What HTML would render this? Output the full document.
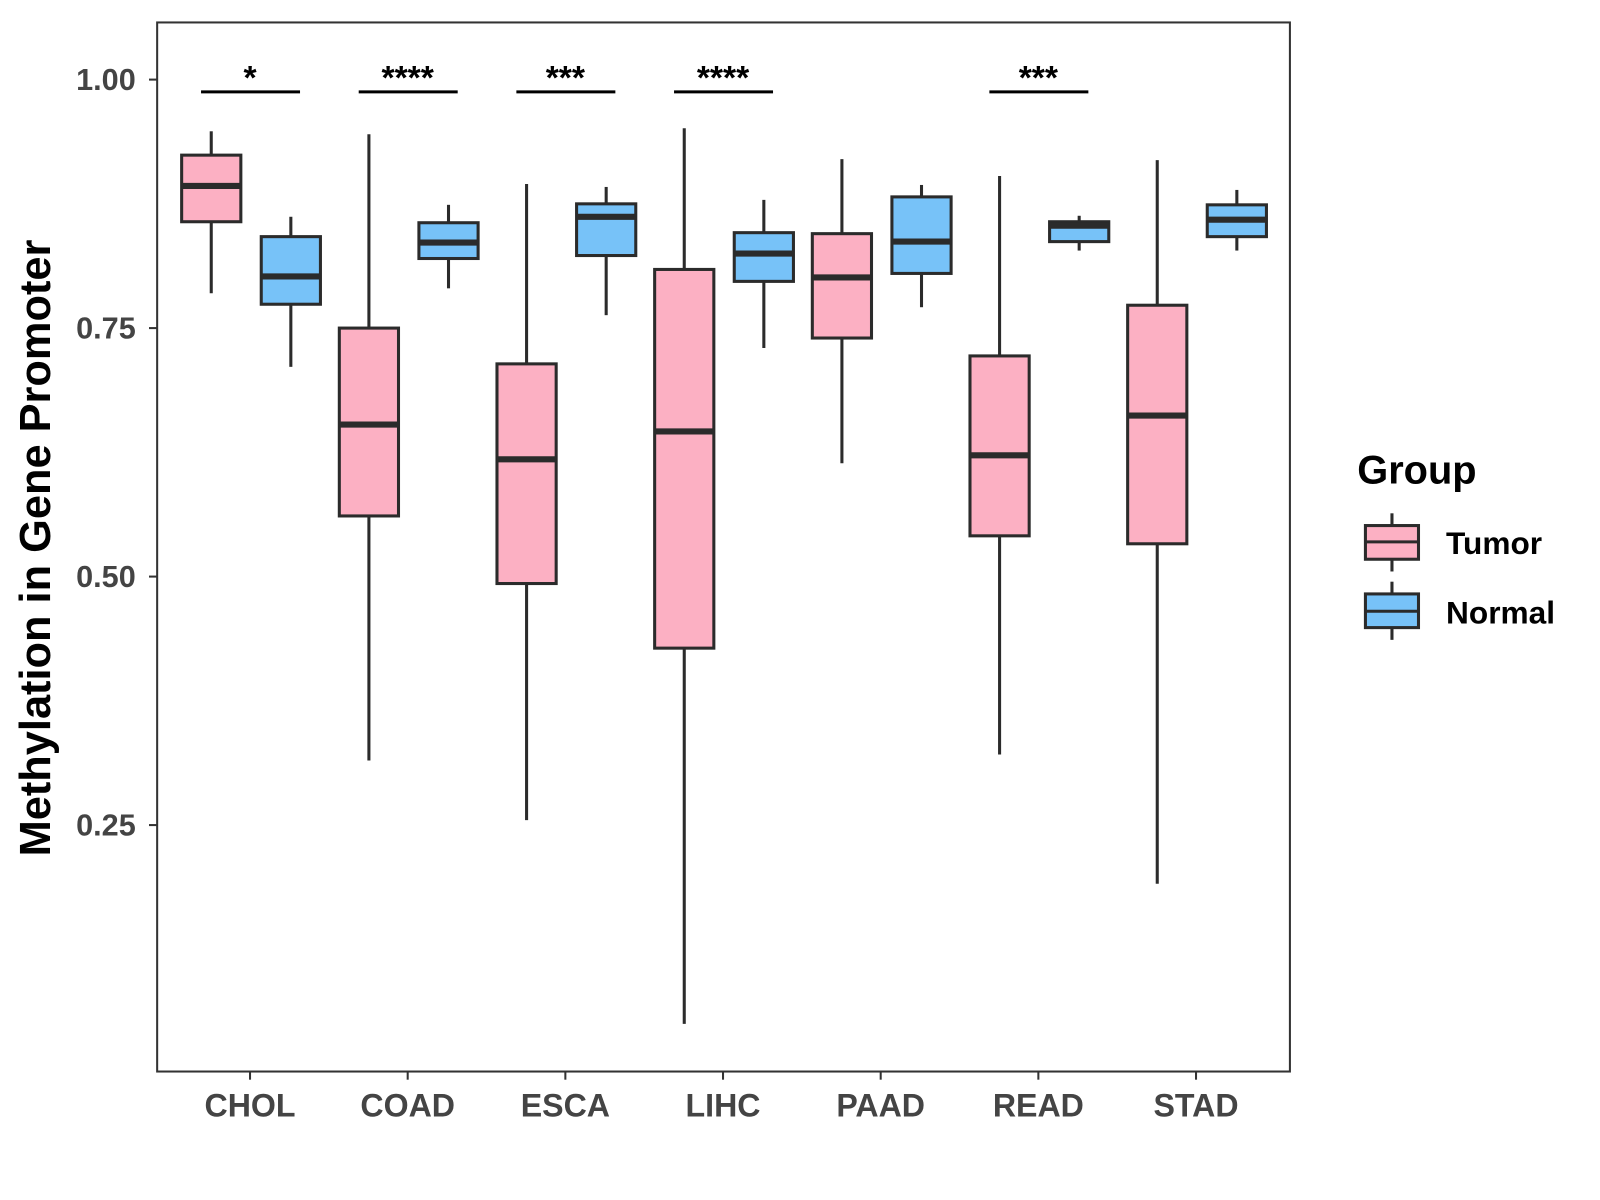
<!DOCTYPE html>
<html><head><meta charset="utf-8"><style>
body{margin:0;background:#fff}
svg{display:block;font-family:"Liberation Sans",Arial,sans-serif}
</style></head><body>
<svg id="chart" width="1600" height="1200" viewBox="0 0 1600 1200">
<g transform="scale(1.0205)">
<rect x="154" y="22" width="1110" height="1028" fill="#fff" stroke="#333" stroke-width="2"/>
<g id="yaxis"></g>
<g id="xaxis"></g>
<g id="boxes"></g>
<g id="sig"></g>
<text x="38" y="537" transform="rotate(-90 38 537)" text-anchor="middle" font-size="42.5" font-weight="bold" fill="#000" dominant-baseline="middle">Methylation in Gene Promoter</text>
<g>
<text x="1330" y="474" font-size="39" font-weight="bold">Group</text>
<g>
<line x1="1364" y1="503" x2="1364" y2="560" stroke="#2b2b2b" stroke-width="3"/>
<rect x="1338" y="515" width="52" height="33" fill="#fcb0c3" stroke="#2b2b2b" stroke-width="3"/>
<line x1="1338" y1="531" x2="1390" y2="531" stroke="#2b2b2b" stroke-width="3"/>
<text x="1417" y="543" font-size="31" font-weight="bold">Tumor</text></g>
<g>
<line x1="1364" y1="570" x2="1364" y2="627" stroke="#2b2b2b" stroke-width="3"/>
<rect x="1338" y="582" width="52" height="33" fill="#77c2f8" stroke="#2b2b2b" stroke-width="3"/>
<line x1="1338" y1="599" x2="1390" y2="599" stroke="#2b2b2b" stroke-width="3"/>
<text x="1417" y="611" font-size="31" font-weight="bold">Normal</text></g>
</g>
</g>
</svg>
<script>
const categories=["CHOL","COAD","ESCA","LIHC","PAAD","READ","STAD"];
// [low, q1, median, q3, high]
const tumorStats=[[0.785,0.857,0.893,0.924,0.948],[0.315,0.561,0.653,0.750,0.945],[0.255,0.493,0.618,0.714,0.895],[0.050,0.428,0.646,0.809,0.951],[0.614,0.740,0.801,0.845,0.920],[0.321,0.541,0.622,0.722,0.903],[0.191,0.533,0.662,0.773,0.919]];
const normalStats=[[0.711,0.774,0.802,0.842,0.862],[0.790,0.820,0.836,0.856,0.874],[0.763,0.823,0.862,0.875,0.892],[0.730,0.797,0.825,0.846,0.879],[0.771,0.805,0.837,0.882,0.894],[0.828,0.837,0.853,0.857,0.863],[0.828,0.842,0.859,0.874,0.889]];
const sigLabels=["*","****","***","****","","***",""];
const yTicks=[0.25,0.5,0.75,1.0];
const yTickLabels=["0.25","0.50","0.75","1.00"];
const NS="http://www.w3.org/2000/svg";
const y=v=>78+(1-v)*974;
const x=i=>245+i*154.5;
function mk(tag,attrs,parent,txt){const e=document.createElementNS(NS,tag);for(const k in attrs)e.setAttribute(k,attrs[k]);if(txt!==undefined)e.textContent=txt;parent.appendChild(e);return e;}
const ya=document.getElementById('yaxis'),xa=document.getElementById('xaxis'),bx=document.getElementById('boxes'),sg=document.getElementById('sig');
yTicks.forEach((t,i)=>{
 const l=mk('line',{x1:146,x2:154,y1:y(t),y2:y(t),stroke:'#333','stroke-width':2},ya);
 
 
 const tx=mk('text',{x:133,y:y(t)+10,'text-anchor':'end','font-size':30,'font-weight':'bold',fill:'#444'},ya,yTickLabels[i]);
 
 
});
function drawBox(s,cx,fill,g){
 const w=58;
 mk('line',{x1:cx,x2:cx,y1:y(s[4]),y2:y(s[3]),stroke:'#2b2b2b','stroke-width':3},g);
 mk('line',{x1:cx,x2:cx,y1:y(s[1]),y2:y(s[0]),stroke:'#2b2b2b','stroke-width':3},g);
 mk('rect',{x:cx-w/2,y:y(s[3]),width:w,height:y(s[1])-y(s[3]),fill:fill,stroke:'#2b2b2b','stroke-width':3},g);
 mk('line',{x1:cx-w/2,x2:cx+w/2,y1:y(s[2]),y2:y(s[2]),stroke:'#2b2b2b','stroke-width':6},g);
}
categories.forEach((c,i)=>{
 const cx=x(i);
 const t=mk('line',{x1:cx,x2:cx,y1:1050,y2:1058,stroke:'#333','stroke-width':2},xa);
 
 
 const lb=mk('text',{x:cx,y:1094,'text-anchor':'middle','font-size':31.5,'font-weight':'bold',fill:'#444'},xa,c);
 
 
 const gt=mk('g',{},bx);
 
 
 drawBox(tumorStats[i],cx-38,'#fcb0c3',gt);
 const gn=mk('g',{},bx);
 
 
 drawBox(normalStats[i],cx+40,'#77c2f8',gn);
 if(sigLabels[i]){
  const gs=mk('g',{},sg);
  
  
  mk('line',{x1:cx-48,x2:cx+49,y1:90,y2:90,stroke:'#000','stroke-width':3},gs);
  mk('text',{x:cx,y:87,'text-anchor':'middle','font-size':33,'font-weight':'bold'},gs,sigLabels[i]);
 }
});
</script>
</body></html>
